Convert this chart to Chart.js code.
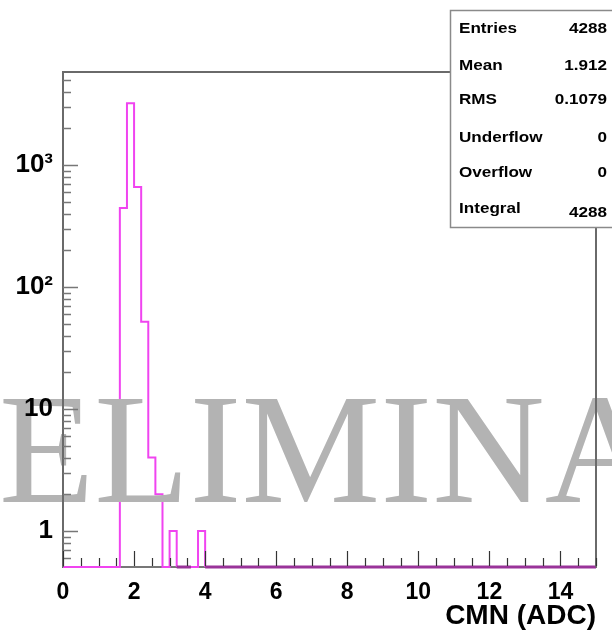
<!DOCTYPE html>
<html>
<head>
<meta charset="utf-8">
<script src="https://cdn.jsdelivr.net/npm/chart.js@4.4.1/dist/chart.umd.min.js"></script>
<style>
html,body{margin:0;padding:0;background:#fff;}
#wrap{position:relative;width:612px;height:633px;}
</style>
</head>
<body>
<div id="wrap"><canvas id="c" width="612" height="633"></canvas></div>
<script>
// ---- data ----
const binLowEdges = [0, 1.6, 1.8, 2.0, 2.2, 2.4, 2.6, 2.8, 3.0, 3.2, 3.4, 3.6, 3.8, 4.0];
const binCounts   = [0, 445, 3200, 660, 52, 4, 2, 0, 1, 0, 0, 0, 1, 0];
const histMaxEdge = 15;
const xTickValues = [0, 2, 4, 6, 8, 10, 12, 14];
const yTickValues = [1, 10, 100, 1000];
const yTickLabels = ['1', '10', '10²', '10³'];
const statsNames  = ['Entries', 'Mean', 'RMS', 'Underflow', 'Overflow', 'Integral'];
const statsValues = ['4288', '1.912', '0.1079', '0', '0', '4288'];
const watermark = 'PRELIMINARY';

const Y_MIN = 0.507, Y_MAX = 5785;

// build step points from bins (zero-content bins sit on the axis floor)
const pts = binLowEdges.map((x, i) => ({x: x, y: binCounts[i] > 0 ? binCounts[i] : Y_MIN}));
pts.push({x: histMaxEdge, y: Y_MIN});

const FONT = "'Liberation Sans', Arial, sans-serif";

const decorPlugin = {
  id: 'decor',
  afterDatasetsDraw(chart) {
    const ctx = chart.ctx;
    ctx.save();
    ctx.font = "156px 'Liberation Serif', 'Times New Roman', serif";
    ctx.fillStyle = '#b3b3b3';
    ctx.textBaseline = 'alphabetic';
    ctx.textAlign = 'left';
    const off = ctx.measureText('PR').width;
    ctx.fillText(watermark, -off - 1, 502);
    ctx.restore();
  },
  afterDraw(chart) {
    const ctx = chart.ctx;
    const a = chart.chartArea;
    const xs = chart.scales.x, ys = chart.scales.y;
    ctx.save();
    // frame
    ctx.strokeStyle = '#6a6a6a';
    ctx.lineWidth = 2;
    ctx.beginPath();
    ctx.moveTo(a.left, a.bottom); ctx.lineTo(a.left, a.top); ctx.lineTo(a.right, a.top); ctx.lineTo(a.right, a.bottom);
    ctx.stroke();
    // y ticks (inside)
    ctx.strokeStyle = '#777';
    ctx.lineWidth = 1.5;
    for (let d = -1; d <= 3; d++) {
      for (let m = 1; m <= 9; m++) {
        const v = m * Math.pow(10, d);
        if (v < Y_MIN || v > Y_MAX) continue;
        const py = Math.round(ys.getPixelForValue(v)) + 0.5;
        const len = (m === 1) ? 15 : 8;
        ctx.beginPath(); ctx.moveTo(a.left, py); ctx.lineTo(a.left + len, py); ctx.stroke();
      }
    }
    // x ticks (inside)
    ctx.strokeStyle = '#333';
    ctx.lineWidth = 1.2;
    for (let v = 0; v <= 15.001; v += 0.5) {
      const px = Math.round(xs.getPixelForValue(v)) + 0.5;
      const major = Math.abs(v / 2 - Math.round(v / 2)) < 1e-6;
      const len = major ? 15 : 8;
      ctx.beginPath(); ctx.moveTo(px, a.bottom - 1); ctx.lineTo(px, a.bottom - 1 - len); ctx.stroke();
    }
    // stats box
    const bx = 450, by = 10, bw = 170, bh = 217;
    ctx.fillStyle = '#fff';
    ctx.fillRect(bx, by, bw, bh);
    ctx.strokeStyle = '#8a8a8a';
    ctx.lineWidth = 1.5;
    ctx.strokeRect(bx + 0.5, by + 0.5, bw, bh);
    ctx.fillStyle = '#000';
    ctx.font = 'bold 15px ' + FONT;
    ctx.textBaseline = 'middle';
    const rowsY = [29, 66, 100, 138, 173, 209];
    const valY  = [29, 66, 100, 138, 173, 213];
    statsNames.forEach((n, i) => {
      ctx.save();
      ctx.translate(459, rowsY[i]);
      ctx.scale(1.14, 1);
      ctx.textAlign = 'left';
      ctx.fillText(n, 0, 0);
      ctx.restore();
      ctx.save();
      ctx.translate(607, valY[i]);
      ctx.scale(1.14, 1);
      ctx.textAlign = 'right';
      ctx.fillText(statsValues[i], 0, 0);
      ctx.restore();
    });
    ctx.restore();
  }
};

new Chart(document.getElementById('c'), {
  type: 'line',
  data: {
    datasets: [{
      data: pts,
      stepped: 'before',
      borderColor: '#f044f0',
      borderWidth: 2,
      pointRadius: 0,
      fill: false,
      clip: {left: 0, top: 0, right: 0, bottom: 3},
      segment: {
        borderColor: c => (c.p0.parsed.y === Y_MIN && c.p1.parsed.y === Y_MIN) ? '#993399' : undefined,
        borderWidth: c => (c.p0.parsed.y === Y_MIN && c.p1.parsed.y === Y_MIN) ? 3 : undefined
      }
    }]
  },
  options: {
    responsive: false,
    animation: false,
    events: [],
    layout: {padding: {top: 72, right: 16, left: 0, bottom: 0}},
    plugins: {legend: {display: false}, tooltip: {enabled: false}},
    scales: {
      x: {
        type: 'linear', min: 0, max: 15,
        afterBuildTicks: s => { s.ticks = xTickValues.map(v => ({value: v})); },
        afterFit: s => { s.height = 66; },
        grid: {display: false, drawTicks: false},
        border: {display: true, color: '#777', width: 2},
        ticks: {
          autoSkip: false, maxRotation: 0, padding: 12, color: '#000', z: 1,
          font: {family: FONT, weight: 'bold', size: 23},
          callback: v => String(v)
        },
        title: {display: true, text: 'CMN (ADC)', align: 'end', color: '#000',
                font: {family: FONT, weight: 'bold', size: 28}, padding: {top: 0, bottom: 0}}
      },
      y: {
        type: 'logarithmic', min: Y_MIN, max: Y_MAX,
        afterBuildTicks: s => { s.ticks = yTickValues.map(v => ({value: v})); },
        afterFit: s => { s.width = 63; },
        grid: {display: false, drawTicks: false},
        border: {display: true, color: '#6a6a6a', width: 2},
        ticks: {
          autoSkip: false, padding: 10, color: '#000', z: 1,
          font: {family: FONT, weight: 'bold', size: 26},
          callback: (v, i) => yTickLabels[yTickValues.indexOf(v)] ?? ''
        }
      }
    }
  },
  plugins: [decorPlugin]
});
</script>
</body>
</html>
